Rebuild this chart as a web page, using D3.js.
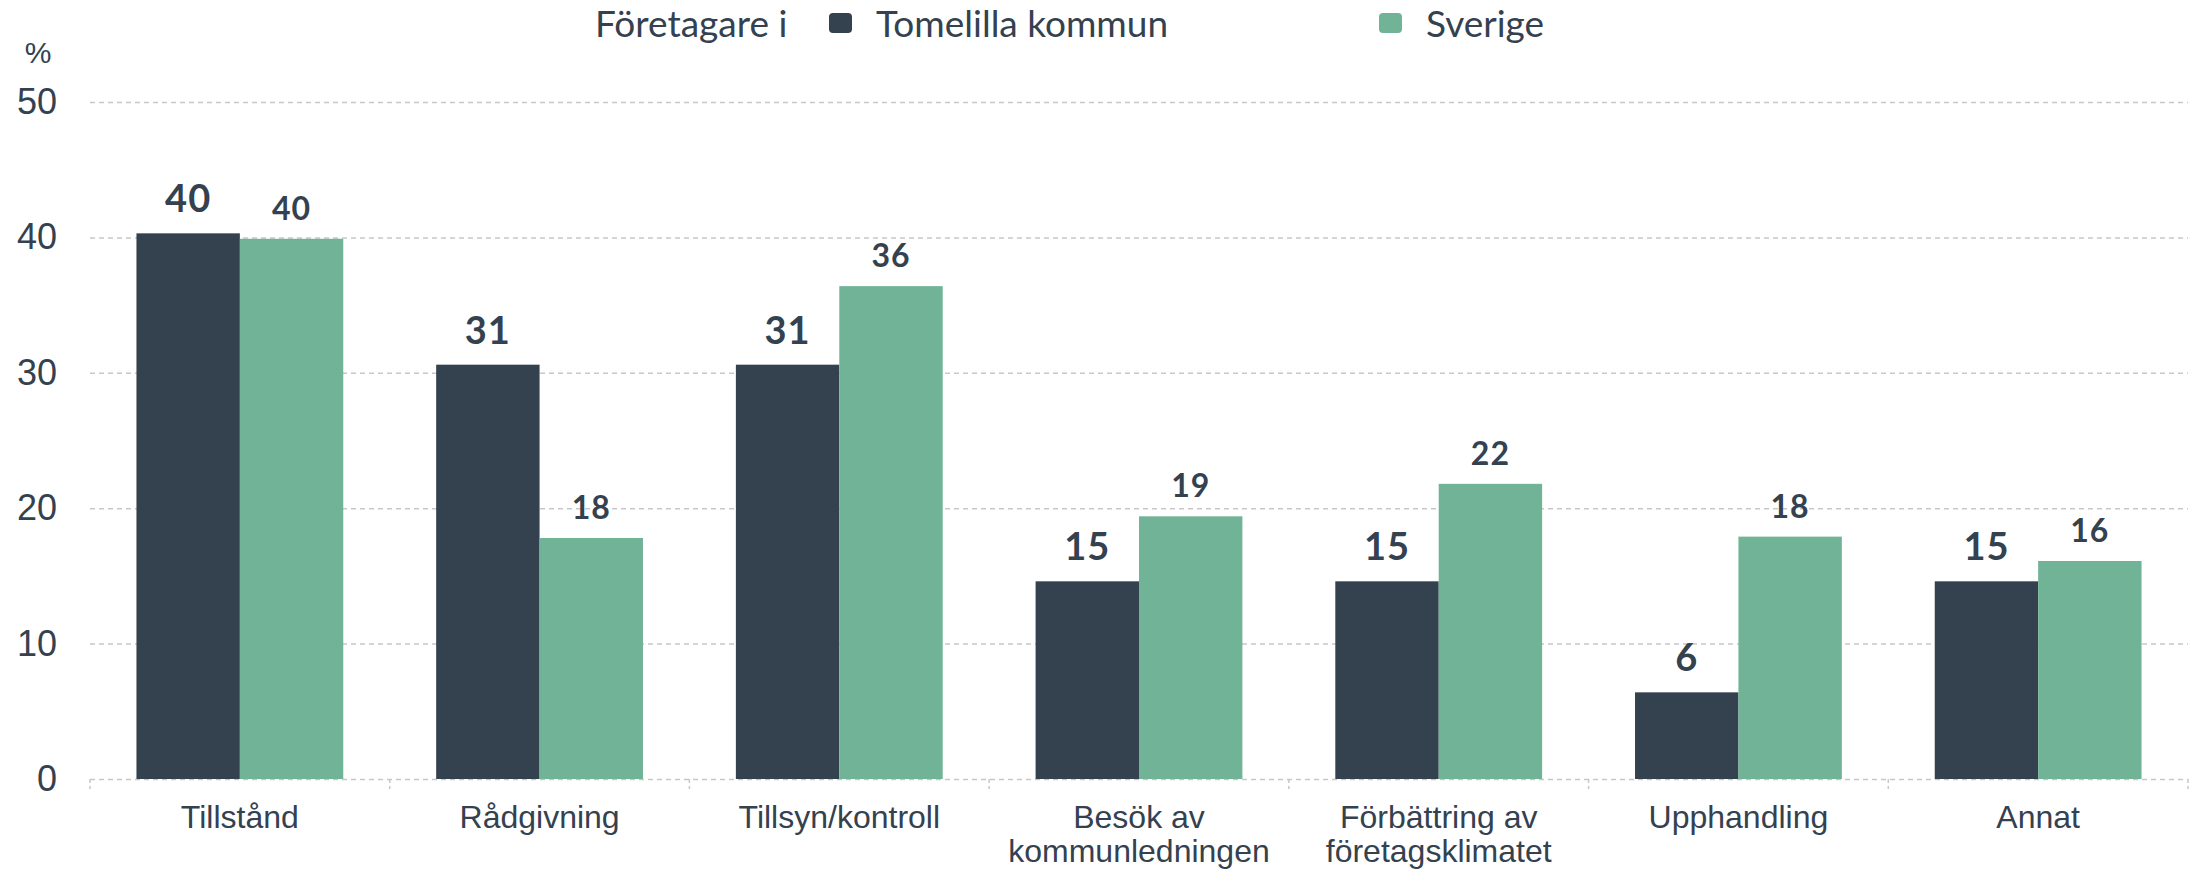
<!DOCTYPE html>
<html>
<head>
<meta charset="utf-8">
<script src="https://cdn.jsdelivr.net/npm/d3@7"></script>
<style>
  body { margin: 0; background: #fff; }
  svg { display: block; }
</style>
</head>
<body>
<div id="chart"></div>
<script>
var categories = ["Tillstånd", "Rådgivning", "Tillsyn/kontroll", "Besök av kommunledningen",
                  "Förbättring av företagsklimatet", "Upphandling", "Annat"];
var seriesNames = ["Tomelilla kommun", "Sverige"];
var tomelilla = [40.3, 30.6, 30.6, 14.6, 14.6, 6.4, 14.6];
var sverige = [39.9, 17.8, 36.4, 19.4, 21.8, 17.9, 16.1];
var yTicks = [0, 10, 20, 30, 40, 50];

var darkColor = "#34414f", greenColor = "#71b396", textColor = "#34414f";

var W = 2193, H = 871;
var margin = {top: 102, right: 5, bottom: 92, left: 90};
var width = W - margin.left - margin.right, height = H - margin.top - margin.bottom;

var svg = d3.select("#chart").append("svg")
    .attr("width", W)
    .attr("height", H);

var g = svg.append("g").attr("transform", "translate(" + margin.left + "," + margin.top + ")");

var x0 = d3.scaleBand().domain(categories).range([0, width]).paddingInner(0.31).paddingOuter(0.155);
var x1 = d3.scaleBand().domain(seriesNames).range([0, x0.bandwidth()]);
var y = d3.scaleLinear().domain([0, 50]).range([height, 0]);
var color = d3.scaleOrdinal().domain(seriesNames).range([darkColor, greenColor]);

// gridlines + y labels
var yAxis = g.append("g")
    .call(d3.axisLeft(y).tickValues(yTicks).tickSize(-width).tickPadding(33));
yAxis.select(".domain").remove();
yAxis.selectAll(".tick line")
    .attr("stroke", "#c8c8c8")
    .attr("stroke-width", 1.5)
    .attr("stroke-dasharray", "5,4");
yAxis.selectAll(".tick text")
    .attr("fill", textColor)
    .style("font-family", "'Liberation Sans', Arial, sans-serif")
    .style("font-size", "36px");

svg.append("text")
    .attr("x", 38)
    .attr("y", 63)
    .attr("text-anchor", "middle")
    .attr("fill", textColor)
    .style("font-family", "'Liberation Sans', Arial, sans-serif")
    .style("font-size", "30px")
    .text("%");

// x axis small ticks at category boundaries
var gap = x0.step() - x0.bandwidth();
var bounds = categories.map(function (c) { return x0(c) - gap / 2; });
bounds.push(width);
g.selectAll(".xtick")
    .data(bounds)
    .enter().append("line")
    .attr("class", "xtick")
    .attr("x1", function (d) { return d; })
    .attr("x2", function (d) { return d; })
    .attr("y1", height)
    .attr("y2", height + 10)
    .attr("stroke", "#c8c8c8")
    .attr("stroke-width", 1.5)
    .attr("stroke-dasharray", "4,3");

// bars
var rows = categories.map(function (c, i) {
    return {cat: c, vals: [{s: seriesNames[0], v: tomelilla[i]}, {s: seriesNames[1], v: sverige[i]}]};
});

var groups = g.selectAll(".grp")
    .data(rows)
    .enter().append("g")
    .attr("class", "grp")
    .attr("transform", function (d) { return "translate(" + x0(d.cat) + ",0)"; });

groups.selectAll("rect")
    .data(function (d) { return d.vals; })
    .enter().append("rect")
    .attr("x", function (d) { return x1(d.s); })
    .attr("y", function (d) { return y(d.v); })
    .attr("width", x1.bandwidth())
    .attr("height", function (d) { return height - y(d.v); })
    .attr("fill", function (d) { return color(d.s); });

groups.selectAll(".val")
    .data(function (d) { return d.vals; })
    .enter().append("text")
    .attr("class", "val")
    .attr("x", function (d) { return x1(d.s) + x1.bandwidth() / 2; })
    .attr("y", function (d, i) { return y(d.v) - (i === 0 ? 21 : 19); })
    .attr("text-anchor", "middle")
    .attr("fill", textColor)
    .style("font-family", "Lato, sans-serif")
    .style("font-weight", 700)
    .style("letter-spacing", "1px")
    .style("font-size", function (d, i) { return i === 0 ? "38px" : "32px"; })
    .text(function (d) { return d3.format(".0f")(d.v); });

// category labels
var xLabels = g.selectAll(".xlab")
    .data(categories)
    .enter().append("text")
    .attr("class", "xlab")
    .attr("x", function (d) { return x0(d) + x0.bandwidth() / 2; })
    .attr("y", height + 49)
    .attr("text-anchor", "middle")
    .attr("fill", textColor)
    .style("font-family", "'Liberation Sans', Arial, sans-serif")
    .style("font-size", "32px")
    .text(function (d) { return d; });

xLabels.each(function (d) {
    var text = d3.select(this), words = d.split(" "), line = [];
    var xx = text.attr("x");
    text.text(null);
    var tspan = text.append("tspan").attr("x", xx).attr("dy", 0);
    words.forEach(function (w) {
        line.push(w);
        tspan.text(line.join(" "));
        if (tspan.node().getComputedTextLength() > 270 && line.length > 1) {
            line.pop();
            tspan.text(line.join(" "));
            line = [w];
            tspan = text.append("tspan").attr("x", xx).attr("dy", 34).text(w);
        }
    });
});

// legend
var legend = svg.append("g").style("font-family", "Lato, sans-serif").style("font-size", "37px");
legend.append("text")
    .attr("x", 595)
    .attr("y", 37)
    .attr("fill", textColor)
    .text("Företagare i");

var legendPos = [{s: seriesNames[0], x: 829}, {s: seriesNames[1], x: 1379}];
legendPos.forEach(function (p) {
    legend.append("rect")
        .attr("x", p.x)
        .attr("y", 13)
        .attr("width", 23)
        .attr("height", 20)
        .attr("rx", 4)
        .attr("fill", color(p.s));
    legend.append("text")
        .attr("x", p.x + 47)
        .attr("y", 37)
        .attr("fill", textColor)
        .text(p.s);
});
</script>
</body>
</html>
